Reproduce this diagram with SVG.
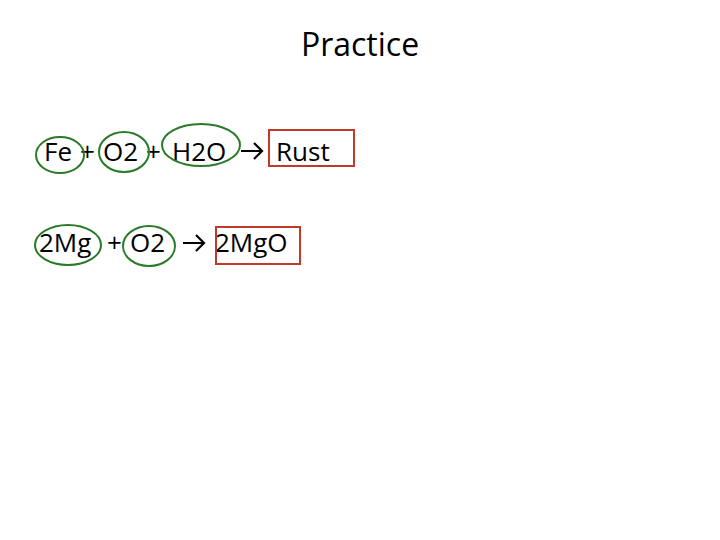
<svg xmlns="http://www.w3.org/2000/svg" width="720" height="540" viewBox="0 0 720 540">
<style>
text{font-family:"Open Sans","Liberation Sans",Arial,sans-serif;fill:#000}
.eq{font-size:26px}
.ov{fill:none;stroke:#2a7a2a;stroke-width:2}
.bx{fill:none;stroke:#c0392b;stroke-width:2}
.ar{fill:none;stroke:#000;stroke-width:2.2}
</style>
<rect width="720" height="540" fill="#fff"/>
<g id="title"><text x="360" y="56" text-anchor="middle" font-size="32">Practice</text></g>
<g id="eq1" class="eq">
<text x="44" y="161">Fe</text><text x="80" y="161">+</text><text x="103" y="161">O2</text>
<text x="146" y="161">+</text><text x="172" y="161">H2O</text><text x="276" y="161">Rust</text>
<path class="ar" d="M241 151H262M254 143L262 151L254 159"/>
</g>
<g id="eq2" class="eq">
<text x="39" y="252">2Mg</text><text x="107" y="252">+</text><text x="130" y="252">O2</text>
<text x="215" y="252">2MgO</text>
<path class="ar" d="M183 243H204M196 235L204 243L196 251"/>
</g>
<g id="marks">
<ellipse class="ov" cx="60" cy="155" rx="24" ry="18"/>
<ellipse class="ov" cx="124" cy="152" rx="25" ry="20"/>
<ellipse class="ov" cx="201" cy="145" rx="39" ry="21"/>
<rect class="bx" x="269" y="130" width="85" height="36"/>
<ellipse class="ov" cx="68" cy="245" rx="33" ry="20"/>
<ellipse class="ov" cx="149" cy="246" rx="26" ry="20"/>
<rect class="bx" x="216" y="227" width="84" height="37"/>
</g>
</svg>
